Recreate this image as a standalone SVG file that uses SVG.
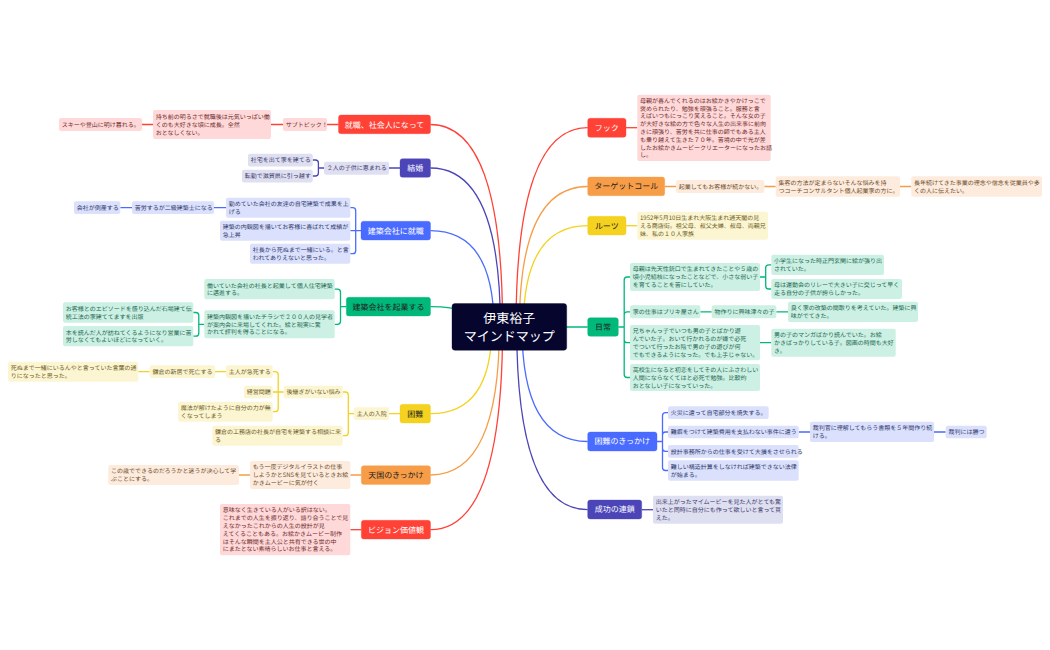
<svg xmlns="http://www.w3.org/2000/svg" width="1050" height="650" viewBox="0 0 1050 650">
<style>
text{font-family:"Noto Sans CJK JP","Noto Sans",sans-serif;font-size:6px;text-rendering:geometricPrecision}
.main text{font-size:8px;text-anchor:middle}
.r rect{fill:#ffd9d9}.r text{fill:#6e2a2a}
.o rect{fill:#fdecdd}.o text{fill:#6b4a28}
.y rect{fill:#fcf5d2}.y text{fill:#6b5c1e}
.g rect{fill:#ccf1e4}.g text{fill:#1d6650}
.b rect{fill:#dbe1fd}.b text{fill:#2e3868}
.p rect{fill:#dfdff2}.p text{fill:#3a3868}
.main rect{stroke-width:1;stroke-opacity:.35}
.main.r rect{fill:#ff4136;stroke:#ff4136}.main.o rect{fill:#f79d47;stroke:#f79d47}.main.y rect{fill:#f4d21f;stroke:#f4d21f}.main.g rect{fill:#00b87a;stroke:#00b87a}.main.b rect{fill:#4a6bff;stroke:#4a6bff}.main.p rect{fill:#4b45b8;stroke:#4b45b8}
.main.r text,.main.b text,.main.p text{fill:#fff}
.main.o text,.main.y text,.main.g text{fill:#222}
#connectors path{fill:none;stroke-width:1.3}
.cr{stroke:#ff4136}.co{stroke:#f79d47}.cy{stroke:#f4d21f}.cg{stroke:#00b87a}.cb{stroke:#4a6bff}.cp{stroke:#4b45b8}
</style>
<rect width="1050" height="650" fill="#fff"/>
<g id="connectors">
<path class="cr" d="M502.6,327Q502.6,124.5 430.5,124.5"/>
<path class="cp" d="M500.4,327Q500.4,168 430.5,168"/>
<path class="cb" d="M494,327Q494,230.7 430.5,230.7"/>
<path class="cg" d="M475,327Q475,306.7 430.5,306.7"/>
<path class="cy" d="M491.8,327Q491.8,413.7 430.5,413.7"/>
<path class="co" d="M499.4,327Q499.4,475 430.5,475"/>
<path class="cr" d="M502.6,327Q502.6,529.7 430.5,529.7"/>
<path class="cr" d="M516,327Q516,127.7 587.7,127.7"/>
<path class="co" d="M519.4,327Q519.4,186.5 587.7,186.5"/>
<path class="cy" d="M523.3,327Q523.3,225.7 587.7,225.7"/>
<path class="cg" d="M509,327H587.7"/>
<path class="cb" d="M522,327Q522,441.5 587.7,441.5"/>
<path class="cp" d="M516.7,327Q516.7,509.7 587.7,509.7"/>
<path class="cr" d="M338.5,124.5H327M283,124.5H271M153,124.5H142"/>
<path class="cp" d="M400,168H389M324,168H318.4M318.4,168V163Q318.4,160 315.4,160H312.7M318.4,168V173Q318.4,176 315.4,176H312.7"/>
<path class="cb" d="M361,230.7H355.7M355.7,230.7V210.7Q355.7,207.7 352.7,207.7H350.3M355.7,230.7H350.3M355.7,230.7V250.7Q355.7,253.7 352.7,253.7H350.3M226,207.7H214M132,207.7H120.3"/>
<path class="cg" d="M346.3,306.7H340.5M340.5,306.7V292.2Q340.5,289.2 337.5,289.2H334.7M340.5,306.7V321.3Q340.5,324.3 337.5,324.3H334.7M204.3,324.3H198.8M198.8,324.3V315.5Q198.8,312.5 195.8,312.5H193.3M198.8,324.3V333.2Q198.8,336.2 195.8,336.2H193.3"/>
<path class="cy" d="M400,413.7H389M354,413.7H348.3M348.3,413.7V395Q348.3,392 345.3,392H342.7M348.3,413.7V432.7Q348.3,435.7 345.3,435.7H342.7M283.7,392H278.2M278.2,392V374.7Q278.2,371.7 275.2,371.7H272.7M278.2,392H272.7M278.2,392V408.7Q278.2,411.7 275.2,411.7H272.7M226,371.7H215M149.7,371.7H138.3"/>
<path class="co" d="M361.3,475H350.3M250,475H239"/>
<path class="cr" d="M361.3,529.7H350.3"/>
<path class="cr" d="M626,127.7H637.3"/>
<path class="co" d="M664.7,186.5H676M764.3,186.5H775.7M900,186.5H911.3"/>
<path class="cy" d="M626,225.7H637.3"/>
<path class="cg" d="M618.3,327H624.2M624.2,327V280Q624.2,277 627.2,277H630M624.2,327V314.8Q624.2,311.8 627.2,311.8H630M624.2,327V339.7Q624.2,342.7 627.2,342.7H630M624.2,327V374.5Q624.2,377.5 627.2,377.5H630M760,277H765.7M765.7,277V267.8Q765.7,264.8 768.7,264.8H771.3M765.7,277V286Q765.7,289 768.7,289H771.3M700.3,311.8H711.7M776.3,311.8H788M760,342.7H771.3"/>
<path class="cb" d="M657,441.5H662.5M662.5,441.5V415.7Q662.5,412.7 665.5,412.7H668M662.5,441.5V435Q662.5,432 665.5,432H668M662.5,441.5V448.3Q662.5,451.3 665.5,451.3H668M662.5,441.5V467.5Q662.5,470.5 665.5,470.5H668M798.7,432H810M934,432H945.7"/>
<path class="cp" d="M641.7,509.7H653"/>
</g>

<g id="root"><rect x="452" y="303.5" width="114.7" height="46.8" rx="3" fill="#05052e" stroke="#05052e" stroke-opacity=".35"/>
<text x="509.3" y="322.5" text-anchor="middle" fill="#fff" style="font-size:13px">伊東裕子</text>
<text x="509.3" y="340.5" text-anchor="middle" fill="#fff" style="font-size:13px">マインドマップ</text></g>

<g id="m1" class="main r"><rect x="338.5" y="115" width="92" height="18.7" rx="2.5"/><text x="384.5" y="127.5">就職、社会人になって</text></g>
<g id="m1a" class="r"><rect x="283" y="118" width="44" height="13" rx="2"/><text x="285.7" y="126.7">サブトピック！</text></g>
<g id="m1b" class="r"><rect x="153" y="110" width="118" height="29" rx="2"/><text x="155.7" y="118.9">持ち前の明るさで就職後は元気いっぱい働</text><text x="155.7" y="126.7">くのも大好きな頃に成長。全然</text><text x="155.7" y="134.5">おとなしくない。</text></g>
<g id="m1c" class="r"><rect x="59" y="118" width="83" height="13" rx="2"/><text x="61.7" y="126.7">スキーや登山に明け暮れる。</text></g>

<g id="m2" class="main p"><rect x="400" y="158.7" width="30.5" height="18.6" rx="2.5"/><text x="415.3" y="171">結婚</text></g>
<g id="m2a" class="p"><rect x="324" y="161.7" width="65" height="13" rx="2"/><text x="326.7" y="170.2">２人の子供に恵まれる</text></g>
<g id="m2b" class="p"><rect x="248" y="153.7" width="64.7" height="12.7" rx="2"/><text x="250.7" y="162.2">社宅を出て家を建てる</text></g>
<g id="m2c" class="p"><rect x="242" y="169.7" width="70.7" height="12.7" rx="2"/><text x="244.7" y="178.2">転勤で滋賀県に引っ越す</text></g>

<g id="m3" class="main b"><rect x="361" y="221.3" width="69.5" height="18.7" rx="2.5"/><text x="395.7" y="233.7">建築会社に就職</text></g>
<g id="m3a" class="b"><rect x="226" y="197.7" width="124.3" height="20" rx="2"/><text x="228.7" y="206">勤めていた会社の友達の自宅建築で成果を上</text><text x="228.7" y="213.8">げる</text></g>
<g id="m3b" class="b"><rect x="220" y="220.7" width="130.3" height="20" rx="2"/><text x="222.7" y="229">建築の内観図を描いてお客様に喜ばれて成績が</text><text x="222.7" y="236.8">急上昇</text></g>
<g id="m3c" class="b"><rect x="250" y="243.7" width="100.3" height="20" rx="2"/><text x="252.7" y="252">社長から死ぬまで一緒にいる。と言</text><text x="252.7" y="259.8">われてありえないと思った。</text></g>
<g id="m3d" class="b"><rect x="132" y="201.3" width="82" height="12.7" rx="2"/><text x="134.7" y="209.9">苦労するが二級建築士になる</text></g>
<g id="m3e" class="b"><rect x="74" y="201.3" width="46.3" height="12.7" rx="2"/><text x="76.7" y="209.9">会社が倒産する</text></g>

<g id="m4" class="main g"><rect x="346.3" y="297.3" width="84.2" height="18.7" rx="2.5"/><text x="388.4" y="309.7">建築会社を起業する</text></g>
<g id="m4a" class="g"><rect x="204.3" y="279" width="130.4" height="20.3" rx="2"/><text x="207" y="287.5">働いていた会社の社長と起業して個人住宅建築</text><text x="207" y="295.3">に邁進する。</text></g>
<g id="m4b" class="g"><rect x="204.3" y="310.3" width="130.4" height="28" rx="2"/><text x="207" y="318.7">建築内観図を描いたチラシで２００人の見学者</text><text x="207" y="326.5">が案内会に来場してくれた。絵と現実に驚</text><text x="207" y="334.3">かれて評判を得ることになる。</text></g>
<g id="m4c" class="g"><rect x="63" y="302.3" width="130.3" height="20.4" rx="2"/><text x="65.7" y="310.8">お客様とのエピソードを盛り込んだ石場建て伝</text><text x="65.7" y="318.6">統工法の家建ててますを出版</text></g>
<g id="m4d" class="g"><rect x="63" y="326" width="130.3" height="20.3" rx="2"/><text x="65.7" y="334.5">本を読んだ人が訪ねてくるようになり営業に苦</text><text x="65.7" y="342.3">労しなくてもよいほどになっていく。</text></g>

<g id="m5" class="main y"><rect x="400" y="404.3" width="30.5" height="18.7" rx="2.5"/><text x="415.3" y="416.7">困難</text></g>
<g id="m5a" class="y"><rect x="354" y="407.3" width="35" height="12.7" rx="2"/><text x="356.7" y="415.9">主人の入院</text></g>
<g id="m5b" class="y"><rect x="283.7" y="385.7" width="59" height="12.6" rx="2"/><text x="286.4" y="394.2">後継ぎがいない悩み</text></g>
<g id="m5c" class="y"><rect x="212.3" y="425.7" width="130.4" height="20" rx="2"/><text x="215" y="434">鎌倉の工務店の社長が自宅を建築する相談に来</text><text x="215" y="441.8">る</text></g>
<g id="m5d" class="y"><rect x="226" y="365.3" width="46.7" height="12.7" rx="2"/><text x="228.7" y="373.9">主人が急死する</text></g>
<g id="m5e" class="y"><rect x="244" y="385.7" width="28.7" height="12.6" rx="2"/><text x="246.7" y="394.2">経営問題</text></g>
<g id="m5f" class="y"><rect x="178" y="401.7" width="94.7" height="20" rx="2"/><text x="180.7" y="410">魔法が解けたように自分の力が無</text><text x="180.7" y="417.8">くなってしまう</text></g>
<g id="m5g" class="y"><rect x="149.7" y="365.3" width="65.3" height="12.7" rx="2"/><text x="152.4" y="373.9">鎌倉の新居で死亡する</text></g>
<g id="m5h" class="y"><rect x="8" y="361.7" width="130.3" height="20" rx="2"/><text x="10.7" y="370">死ぬまで一緒にいるんやと言っていた言葉の通</text><text x="10.7" y="377.8">りになったと思った。</text></g>

<g id="m6" class="main o"><rect x="361.3" y="465.7" width="69.2" height="18.7" rx="2.5"/><text x="395.9" y="478">天国のきっかけ</text></g>
<g id="m6a" class="o"><rect x="250" y="461" width="100.3" height="28" rx="2"/><text x="252.7" y="469.4">もう一度デジタルイラストの仕事</text><text x="252.7" y="477.2">しようかとSNSを見ているときお絵</text><text x="252.7" y="485">かきムービーに気が付く</text></g>
<g id="m6b" class="o"><rect x="108.3" y="465" width="130.7" height="20" rx="2"/><text x="111" y="473.3">この歳でできるのだろうかと迷うが決心して学</text><text x="111" y="481.1">ぶことにする。</text></g>

<g id="m7" class="main r"><rect x="361.3" y="520.3" width="69.2" height="18.7" rx="2.5"/><text x="395.9" y="532.7">ビジョン価値観</text></g>
<g id="m7a" class="r"><rect x="220" y="504" width="130.3" height="51.3" rx="2"/><text x="222.7" y="512.4">意味なく生きている人がいる訳はない。</text><text x="222.7" y="520.2">これまでの人生を振り返り、語り合うことで見</text><text x="222.7" y="528">えなかったこれからの人生の設計が見</text><text x="222.7" y="535.8">えてくることもある。お絵かきムービー制作</text><text x="222.7" y="543.6">はそんな瞬間を主人公と共有できる世の中</text><text x="222.7" y="551.4">にまたとない素晴らしいお仕事と言える。</text></g>

<g id="m8" class="main r"><rect x="587.7" y="118.3" width="38.3" height="19" rx="2.5"/><text x="606.8" y="130.6">フック</text></g>
<g id="m8a" class="r"><rect x="637.3" y="94.7" width="133.4" height="66.3" rx="2"/><text x="640" y="102.7">母親が喜んでくれるのはお絵かきやかけっこで</text><text x="640" y="110.5">褒められたり、勉強を頑張ること。服務と言</text><text x="640" y="118.3">えばいつもにっこり笑えること。そんな女の子</text><text x="640" y="126.1">が大好きな絵の方で色々な人生の出来事に前向</text><text x="640" y="133.9">きに頑張り、苦労を共に仕事の師でもある主人</text><text x="640" y="141.7">も乗り越えて生きた７０年。苦境の中で光が差</text><text x="640" y="149.5">したお絵かきムービークリエーターになったお話</text><text x="640" y="157.3">し。</text></g>

<g id="m9" class="main o"><rect x="587.7" y="177" width="77" height="18.7" rx="2.5"/><text x="626.2" y="189.3">ターゲットコール</text></g>
<g id="m9a" class="o"><rect x="676" y="180" width="88.3" height="13" rx="2"/><text x="678.7" y="188.7">起業してもお客様が続かない。</text></g>
<g id="m9b" class="o"><rect x="775.7" y="176.3" width="124.3" height="20.4" rx="2"/><text x="778.4" y="184.8">集客の方法が定まらないそんな悩みを持</text><text x="778.4" y="192.6">つコーチコンサルタント個人起業家の方に。</text></g>
<g id="m9c" class="o"><rect x="911.3" y="176.3" width="130.7" height="20.4" rx="2"/><text x="914" y="184.8">長年続けてきた事業の理念や信念を従業員や多</text><text x="914" y="192.6">くの人に伝えたい。</text></g>

<g id="m10" class="main y"><rect x="587.7" y="216.3" width="38.3" height="18.7" rx="2.5"/><text x="606.8" y="228.6">ルーツ</text></g>
<g id="m10a" class="y"><rect x="637.3" y="211.7" width="130.7" height="28" rx="2"/><text x="640" y="220.1">1952年5月10日生まれ大阪生まれ通天閣の見</text><text x="640" y="227.9">える商店街。祖父母、叔父夫婦、叔母、両親兄</text><text x="640" y="235.7">妹、私の１０人家族</text></g>

<g id="m11" class="main g"><rect x="587.7" y="317.7" width="30.6" height="18.6" rx="2.5"/><text x="603" y="330">日常</text></g>
<g id="m11a" class="g"><rect x="630" y="263" width="130" height="28" rx="2"/><text x="632.7" y="271.4">母親は先天性銃口で生まれてきたことや５歳の</text><text x="632.7" y="279.2">頃小児結核になったことなどで、小さな弱い子</text><text x="632.7" y="287">を育てることを苦にしていた。</text></g>
<g id="m11b" class="g"><rect x="771.3" y="254.7" width="112.7" height="20.3" rx="2"/><text x="774" y="263.1">小学生になった時正門玄関に絵が張り出</text><text x="774" y="270.9">されていた。</text></g>
<g id="m11c" class="g"><rect x="771.3" y="279" width="130.7" height="20" rx="2"/><text x="774" y="287.3">母は運動会のリレーで大きい子に交じって早く</text><text x="774" y="295.1">走る自分の子供が誇らしかった。</text></g>
<g id="m11d" class="g"><rect x="630" y="305.3" width="70.3" height="13" rx="2"/><text x="632.7" y="314">家の仕事はブリキ屋さん</text></g>
<g id="m11e" class="g"><rect x="711.7" y="305.3" width="64.6" height="13" rx="2"/><text x="714.4" y="314">物作りに興味津々の子</text></g>
<g id="m11f" class="g"><rect x="788" y="301.7" width="130" height="20.3" rx="2"/><text x="790.7" y="310.1">良く家の改築の間取りを考えていた。建築に興</text><text x="790.7" y="317.9">味がでてきた。</text></g>
<g id="m11g" class="g"><rect x="630" y="325" width="130" height="35.3" rx="2"/><text x="632.7" y="333.2">兄ちゃんっ子でいつも男の子とばかり遊</text><text x="632.7" y="341">んでいた子。おいて行かれるのが嫌で必死</text><text x="632.7" y="348.8">でついて行ったお陰で男の子の遊びが何</text><text x="632.7" y="356.6">でもできるようになった。でも上手じゃない。</text></g>
<g id="m11h" class="g"><rect x="771.3" y="328.7" width="124.4" height="28" rx="2"/><text x="774" y="337.1">男の子のマンガばかり読んでいた。お絵</text><text x="774" y="344.9">かきばっかりしている子。図画の時間も大好</text><text x="774" y="352.7">き。</text></g>
<g id="m11i" class="g"><rect x="630" y="364" width="130" height="27" rx="2"/><text x="632.7" y="371.9">高校生になると初恋をしてその人にふさわしい</text><text x="632.7" y="379.7">人間にならなくてはと必死で勉強。比較的</text><text x="632.7" y="387.5">おとなしい子になっていった。</text></g>

<g id="m12" class="main b"><rect x="587.7" y="432" width="69.3" height="19" rx="2.5"/><text x="622.3" y="444.4">困難のきっかけ</text></g>
<g id="m12a" class="b"><rect x="668" y="406.3" width="100.7" height="12.7" rx="2"/><text x="670.7" y="414.9">火災に遭って自宅部分を焼失する。</text></g>
<g id="m12b" class="b"><rect x="668" y="425.7" width="130.7" height="12.6" rx="2"/><text x="670.7" y="434.2">難癖をつけて建築費用を支払わない事件に遭う</text></g>
<g id="m12c" class="b"><rect x="810" y="421.7" width="124" height="20.3" rx="2"/><text x="812.7" y="430.1">裁判官に理解してもらう書類を５年間作り続</text><text x="812.7" y="437.9">ける。</text></g>
<g id="m12d" class="b"><rect x="945.7" y="425.7" width="41" height="12.6" rx="2"/><text x="948.4" y="434.2">裁判には勝つ</text></g>
<g id="m12e" class="b"><rect x="668" y="445" width="130.7" height="12.7" rx="2"/><text x="670.7" y="453.6">設計事務所からの仕事を受けて大損をさせられる</text></g>
<g id="m12f" class="b"><rect x="668" y="460.3" width="130.7" height="20.4" rx="2"/><text x="670.7" y="468.8">難しい構造計算をしなければ建築できない法律</text><text x="670.7" y="476.6">が始まる。</text></g>

<g id="m13" class="main p"><rect x="587.7" y="500" width="54" height="19" rx="2.5"/><text x="614.7" y="512.4">成功の連鎖</text></g>
<g id="m13a" class="p"><rect x="653" y="495.7" width="130" height="28" rx="2"/><text x="655.7" y="504.1">出来上がったマイムービーを見た人がとても驚</text><text x="655.7" y="511.9">いたと同時に自分にも作って欲しいと言って貰</text><text x="655.7" y="519.7">えた。</text></g>
</svg>
